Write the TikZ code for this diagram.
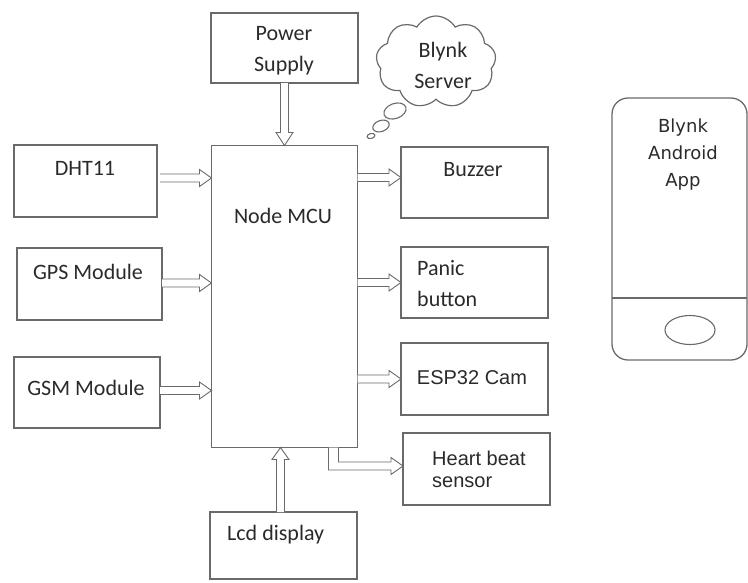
\documentclass[tikz,border=0pt]{standalone}
\usepackage{fontspec}
\setmainfont{Carlito}
\newfontfamily\arialf{Liberation Sans}
\newfontfamily\verdf{DejaVu Sans}
\usetikzlibrary{shapes.symbols,shapes.geometric,calc}
\definecolor{ln}{HTML}{6A6A6A}
\definecolor{tx}{HTML}{2A2A2A}
% hollow block arrows between two named points
\newcommand\myrarr[2]{\draw[barr] let \p1=(#1), \p2=(#2) in
  (\x1,\y1+4pt) -- (\x2-12pt,\y1+4pt) -- (\x2-12pt,\y1+8.5pt) -- (\x2,\y1)
  -- (\x2-12pt,\y1-8.5pt) -- (\x2-12pt,\y1-4pt) -- (\x1,\y1-4pt);}
\newcommand\myuarr[2]{\draw[barr] let \p1=(#1), \p2=(#2) in
  (\x1-4pt,\y1) -- (\x1-4pt,\y2-12pt) -- (\x1-8.5pt,\y2-12pt) -- (\x1,\y2)
  -- (\x1+8.5pt,\y2-12pt) -- (\x1+4pt,\y2-12pt) -- (\x1+4pt,\y1);}
\newcommand\mydarr[2]{\draw[barr] let \p1=(#1), \p2=(#2) in
  (\x1-4pt,\y1) -- (\x1-4pt,\y2+13pt) -- (\x1-8.5pt,\y2+13pt) -- (\x1,\y2)
  -- (\x1+8.5pt,\y2+13pt) -- (\x1+4pt,\y2+13pt) -- (\x1+4pt,\y1);}
\begin{document}
\begin{tikzpicture}[x=1pt,y=-1pt,
  box/.style={draw=ln,line width=1.3pt,inner sep=0pt,outer sep=0pt},
  txt/.style={text=tx,font=\fontsize{22}{31}\selectfont,inner sep=0pt},
  atxt/.style={text=tx,font=\arialf\fontsize{20}{22}\selectfont,inner sep=0pt},
  barr/.style={draw=ln,line width=0.9pt,fill=white,line join=miter},
  bub/.style={ellipse,draw=ln,line width=1.1pt,inner sep=0pt}]
\useasboundingbox (0,0) rectangle (748,582);
% boxes
\node[box,minimum width=147,minimum height=70] (pwr) at (284.5,48) {};
\node[box,minimum width=146,minimum height=302] (mcu) at (284.5,296.5) {};
\node[box,minimum width=143,minimum height=72] (dht) at (85.5,181) {};
\node[box,minimum width=145,minimum height=72] (gps) at (89.5,284) {};
\node[box,minimum width=146,minimum height=71] (gsm) at (87,392.5) {};
\node[box,minimum width=147,minimum height=71] (buz) at (474.5,182.5) {};
\node[box,minimum width=147,minimum height=71] (pan) at (474.5,282.5) {};
\node[box,minimum width=147,minimum height=72] (esp) at (474.5,379) {};
\node[box,minimum width=147,minimum height=72] (hrt) at (476.5,469) {};
\node[box,minimum width=147,minimum height=67] (lcd) at (283.5,545.5) {};
% texts
\node[txt,align=center] (pwrt) at (284,51) {Power\\Supply};
\node[txt] (mcut) at (283,216) {Node MCU};
\node[txt] (dhtt) at (85,168) {DHT11};
\node[txt] (gpst) at (88,272) {GPS Module};
\node[txt] (gsmt) at (86,388) {GSM Module};
\node[txt] (buzt) at (473,170) {Buzzer};
\node[txt,align=left,anchor=west] (pant) at (417,284) {Panic\\button};
\node[atxt] (espt) at (472,378) {ESP32 Cam};
\node[atxt,align=left,anchor=west] (hrtt) at (432,469) {Heart beat\\sensor};
\node[txt,anchor=west] (lcdt) at (227,535) {Lcd display};
% cloud
\node[cloud,draw=ln,line width=1.2pt,cloud puffs=9,cloud puff arc=120,aspect=1.3,
  minimum width=120,minimum height=92,inner sep=0pt] (cld) at (436,62) {};
\node[txt,align=center] (cldt) at (443,65) {Blynk\\Server};
\node[bub,minimum width=23,minimum height=15,rotate=20] (b1) at (395,111) {};
\node[bub,minimum width=17,minimum height=11,rotate=20] (b2) at (381,126) {};
\node[bub,minimum width=8,minimum height=5,rotate=15] (b3) at (371,136) {};
% phone
\node[box,rounded corners=16pt,minimum width=135,minimum height=262] (ph) at (679.5,229) {};
\draw[draw=ln,line width=1.3pt] (ph.west |- 0,298) coordinate (phl) -- (ph.east |- 0,298) coordinate (phr);
\node[ellipse,draw=ln,line width=1.1pt,minimum width=50,minimum height=29,inner sep=0pt] (btn) at (690,330) {};
\node[text=tx,font=\verdf\fontsize{18}{27}\selectfont,align=center,inner sep=0pt] (pht) at (683,155) {Blynk\\Android\\App};
% arrows
\coordinate (dhtA) at ($(dht.east)+(3,-3)$);
\coordinate (dhtB) at ($(dht.east -| mcu.west)+(0,-3)$);
\myrarr{dhtA}{dhtB}
\coordinate (gpsA) at ($(gps.east)+(0,-1)$);
\coordinate (gpsB) at ($(gps.east -| mcu.west)+(0,-1)$);
\myrarr{gpsA}{gpsB}
\coordinate (gsmA) at ($(gsm.east)+(0,-2)$);
\coordinate (gsmB) at ($(gsm.east -| mcu.west)+(0,-2)$);
\myrarr{gsmA}{gsmB}
\coordinate (buzA) at ($(mcu.east |- buz.west)+(0,-5)$);
\coordinate (buzB) at ($(buz.west)+(0,-5)$);
\myrarr{buzA}{buzB}
\coordinate (panA) at (mcu.east |- pan.west);
\myrarr{panA}{pan.west}
\coordinate (espA) at (mcu.east |- esp.west);
\myrarr{espA}{esp.west}
\coordinate (pwrB) at (pwr.south |- mcu.north);
\mydarr{pwr.south}{pwrB}
\coordinate (lcdA) at ($(lcd.north)+(-3,0)$);
\coordinate (lcdB) at ($(lcd.north |- mcu.south)+(-3,0)$);
\myuarr{lcdA}{lcdB}
% elbow arrow to heart beat sensor
\coordinate (hrtA) at ($(mcu.south east)+(-24,0)$);
\coordinate (hrtB) at ($(hrt.west)+(0,-3)$);
\draw[barr] let \p1=(hrtA), \p2=(hrtB) in
  (\x1-5pt,\y1) -- (\x1-5pt,\y2-4pt) -- (\x2-12pt,\y2-4pt) -- (\x2-12pt,\y2-8.5pt)
  -- (\x2,\y2) -- (\x2-12pt,\y2+8.5pt) -- (\x2-12pt,\y2+4pt) -- (\x1+5pt,\y2+4pt) -- (\x1+5pt,\y1);
\end{tikzpicture}
\end{document}
